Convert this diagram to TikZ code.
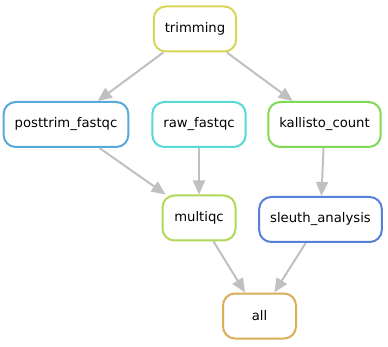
\documentclass[tikz,border=0pt]{standalone}
\usepackage{fontspec}
\setmainfont{DejaVu Sans}
\usepackage{xcolor}
\usetikzlibrary{arrows.meta}

\definecolor{ctrim}{RGB}{214,214,87}
\definecolor{cpost}{RGB}{87,169,217}
\definecolor{craw}{RGB}{87,217,214}
\definecolor{ckal}{RGB}{128,217,87}
\definecolor{cmqc}{RGB}{175,217,87}
\definecolor{csleuth}{RGB}{87,128,217}
\definecolor{call}{RGB}{217,174,87}
\definecolor{cedge}{RGB}{192,192,192}

\begin{document}
\begin{tikzpicture}[
x=1pt,y=-1pt,
>={Triangle[length=14pt,width=12pt]},
every node/.style={font=\fontsize{13.2}{15}\selectfont},
rule/.style={rectangle,rounded corners=12pt,draw,line width=2pt,fill=white,
  minimum width=73pt,minimum height=45pt,inner xsep=11pt},
dep/.style={->,draw=cedge,fill=cedge,line width=2pt}
]
\useasboundingbox (0,0) rectangle (388,347);

% Rules
\node[rule,draw=ctrim] (trimming) at (195,29) {trimming};
\node[rule,draw=cpost] (posttrim) at (66,124.5) {posttrim\_fastqc};
\node[rule,draw=craw] (raw) at (199,124.5) {raw\_fastqc};
\node[rule,draw=ckal] (kallisto) at (324.5,124.5) {kallisto\_count};
\node[rule,draw=cmqc] (multiqc) at (199,218) {multiqc};
\node[rule,draw=csleuth] (sleuth) at (320.5,219.5) {sleuth\_analysis};
\node[rule,draw=call] (all) at (259.5,316) {all};

% Dependencies
\draw[dep] (trimming) -- (posttrim);
\draw[dep] (trimming) -- (kallisto);
\draw[dep] (posttrim) -- (multiqc);
\draw[dep] (raw) -- (multiqc);
\draw[dep] (kallisto) -- (sleuth);
\draw[dep] (multiqc) -- (all);
\draw[dep] (sleuth) -- (all);

\end{tikzpicture}
\end{document}
